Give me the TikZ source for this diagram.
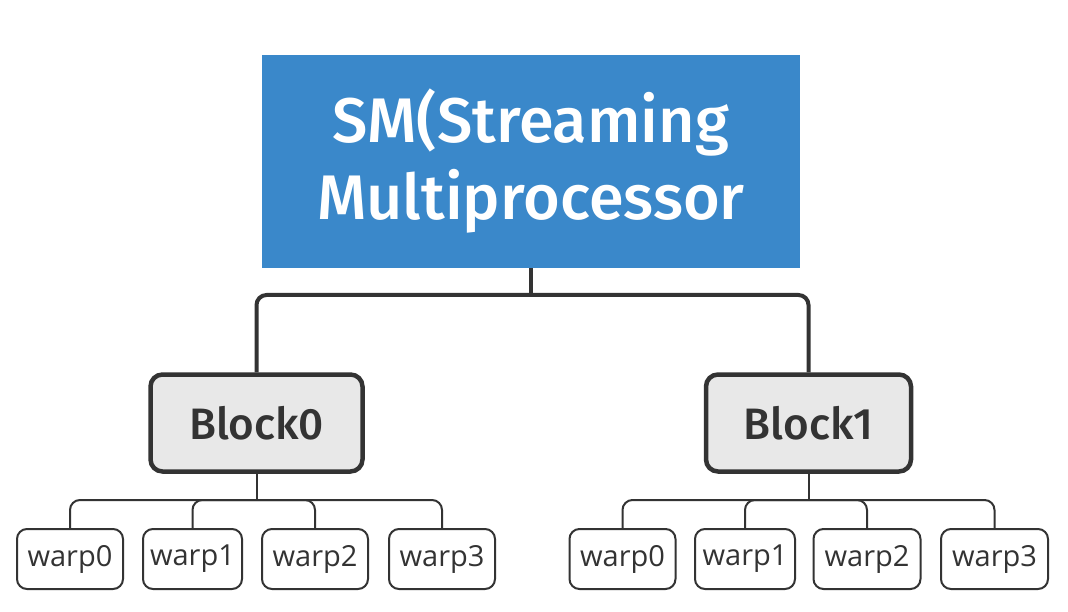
\documentclass[tikz,border=0pt]{standalone}
\usepackage{fontspec}
\setmainfont{Open Sans}
\newfontfamily\medfont{Fira Sans Medium}
\definecolor{smblue}{HTML}{3A88CA}
\definecolor{boxgray}{HTML}{E8E8E8}
\definecolor{linegray}{HTML}{333333}

\begin{document}
\begin{tikzpicture}[%
        x = 1pt,
        y = -1pt,
        smbox/.style = {
            fill = smblue, text = white, inner sep = 0pt,
            minimum width = 538pt, minimum height = 213pt,
            align = center, font = \fontsize{63}{77}\selectfont\medfont
        },
        blockbox/.style = {
            draw = linegray, line width = 4.5pt, fill = boxgray,
            rounded corners = 12pt, inner sep = 0pt, text = linegray,
            minimum height = 97pt, font = \fontsize{44}{48}\selectfont\medfont
        },
        warpbox/.style = {
            draw = linegray, line width = 2pt, fill = white,
            rounded corners = 10pt, inner sep = 0pt, text = linegray,
            minimum height = 60pt, font = \fontsize{29}{32}\selectfont
        },
        thickline/.style = {draw = linegray, line width = 4pt, rounded corners = 10pt},
        thinline/.style = {draw = linegray, line width = 2pt, rounded corners = 10pt}
    ]

        \useasboundingbox (0, 0) rectangle (1068, 612);

        % The multiprocessor and its two blocks.
        \node[smbox] (sm) at (531, 161.5) {SM(Streaming\\Multiprocessor};
        \node[blockbox, minimum width = 212pt] (b0) at (256.5, 423) {Block0};
        \node[blockbox, minimum width = 205pt] (b1) at (808.5, 423) {Block1};

        % Warps under each block.
        \foreach \i/\x/\w in {0/70/106, 1/192.5/99, 2/315/106, 3/442/106}
            \node[warpbox, minimum width = \w pt] (wa\i) at (\x, 559) {warp\i};
        \foreach \i/\x/\w in {0/622.5/106, 1/745/100, 2/867/107, 3/994.5/107}
            \node[warpbox, minimum width = \w pt] (wb\i) at (\x, 559) {warp\i};

        % Junction points of the tree.
        \coordinate (smj) at (531, 295);
        \coordinate (b0j) at (256.5, 500);
        \coordinate (b1j) at (808.5, 500);

        % Connectors from the multiprocessor to the blocks.
        \draw[thickline] (sm.south) -- (smj);
        \draw[thickline] (b0.north) |- (smj) -| (b1.north);

        % Connectors from the blocks to the warps.
        \draw[thinline] (b0.south) -- (b0j);
        \draw[thinline] (wa0.north) |- (b0j) -| (wa3.north);
        \draw[thinline] (wa1.north) |- (b0j) -| (wa2.north);
        \draw[thinline] (b1.south) -- (b1j);
        \draw[thinline] (wb0.north) |- (b1j) -| (wb3.north);
        \draw[thinline] (wb1.north) |- (b1j) -| (wb2.north);
    \end{tikzpicture}
\end{document}
